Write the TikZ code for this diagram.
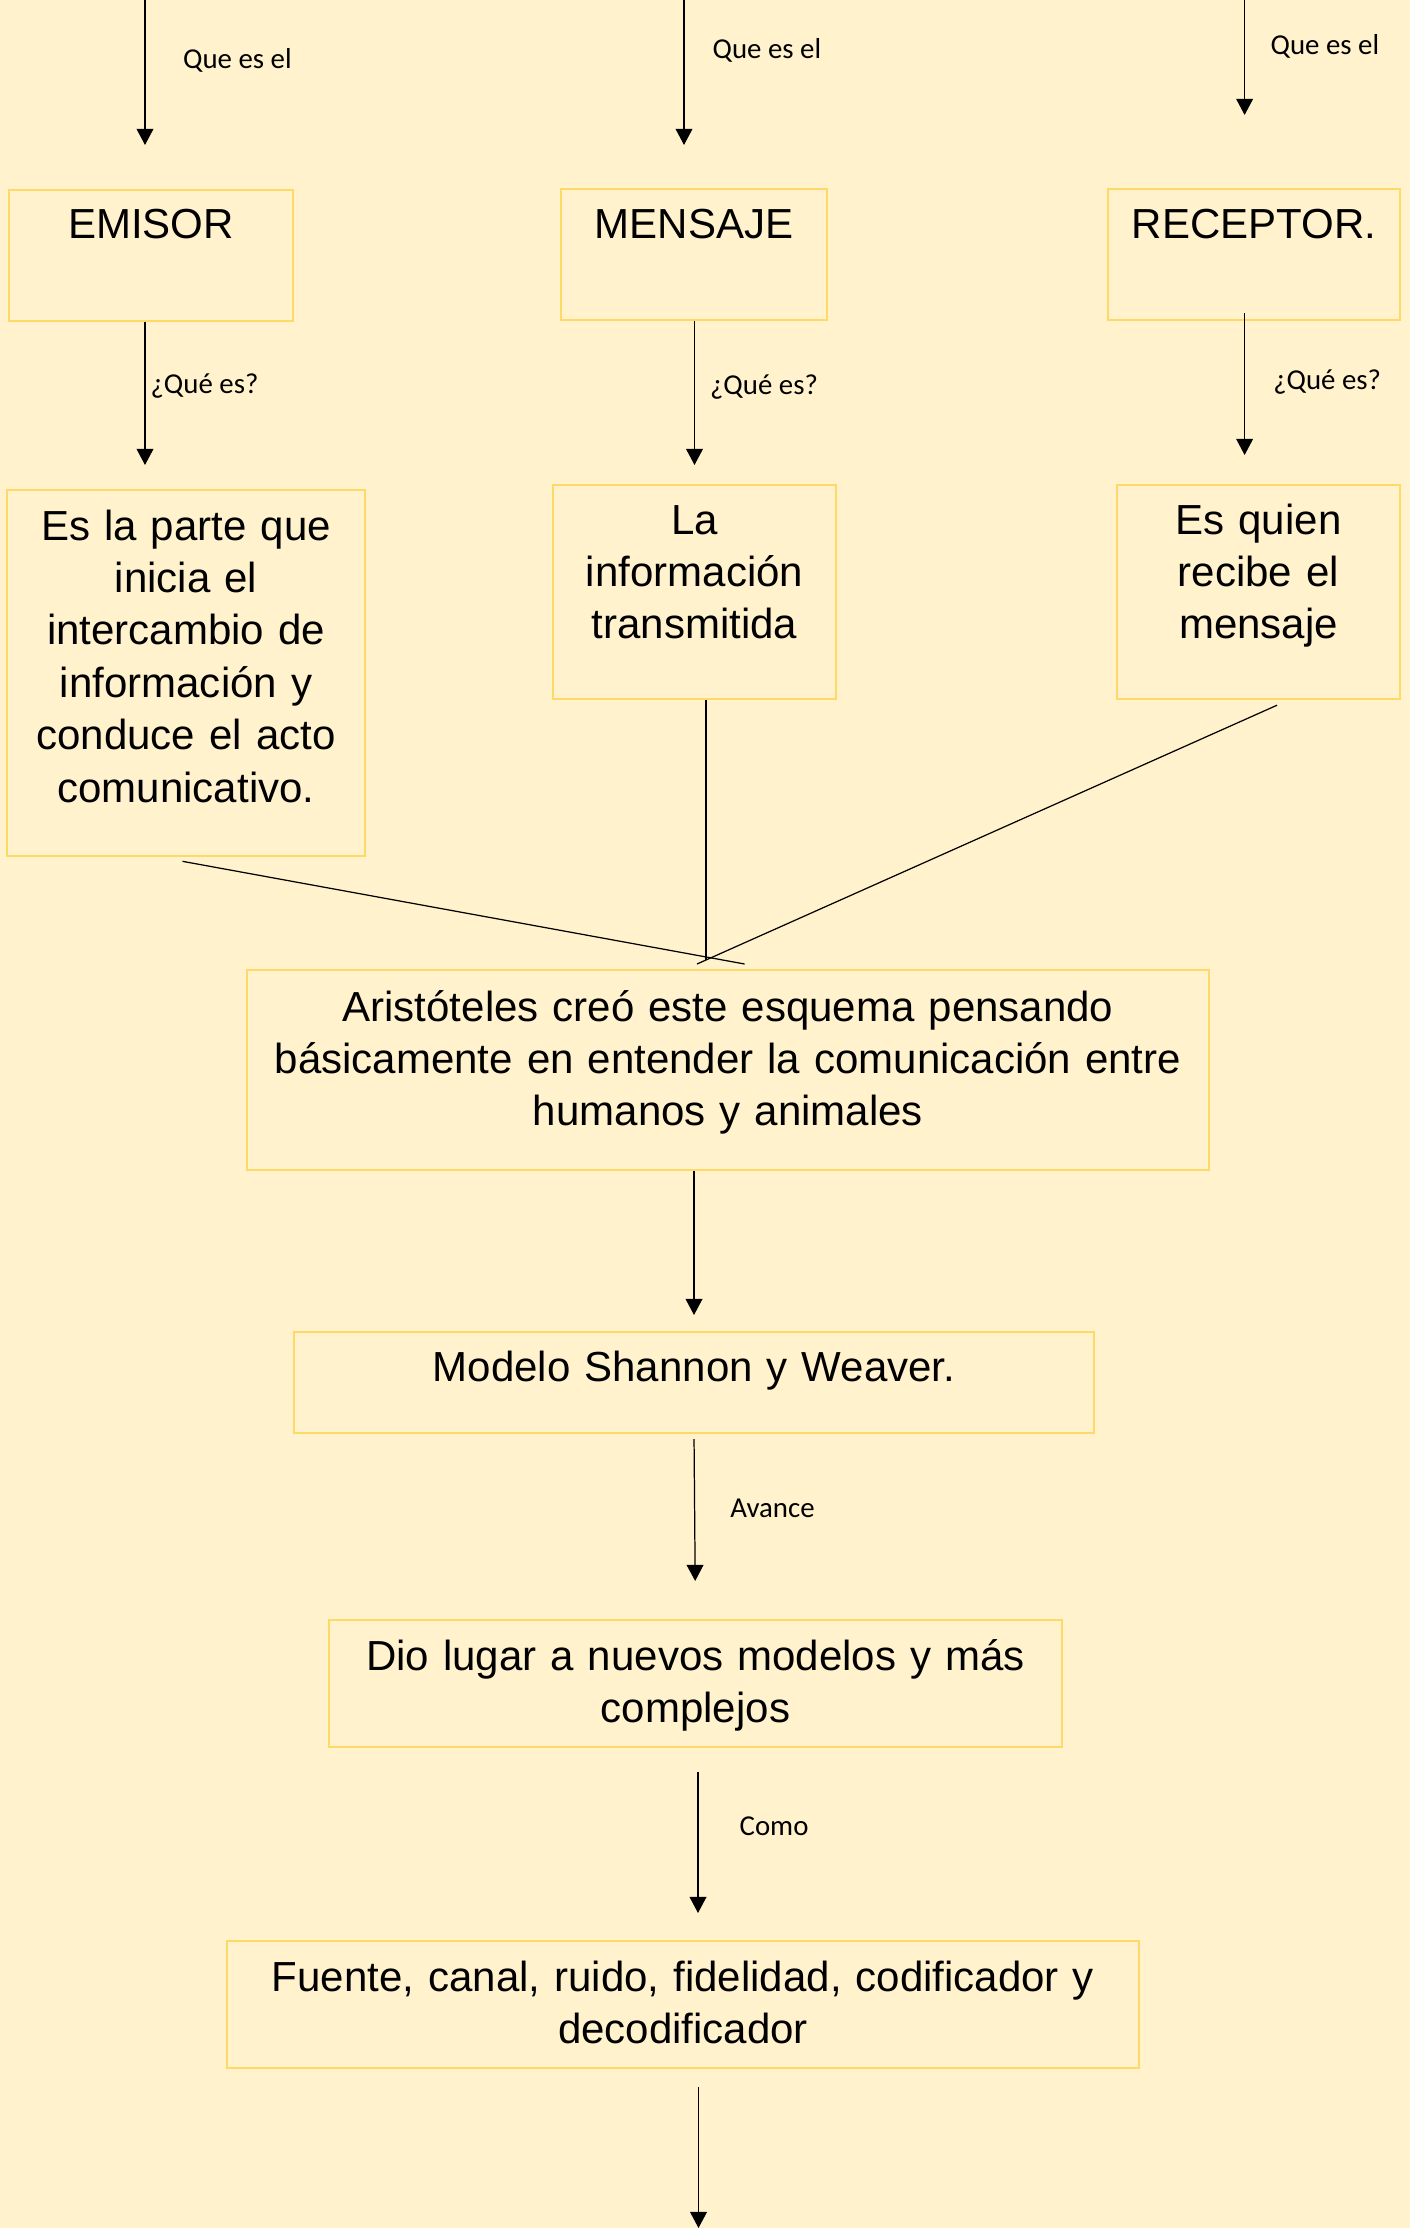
\documentclass[tikz,border=0pt]{standalone}
\usepackage{fontspec}
\setmainfont{Liberation Sans}
\newfontfamily\carlito{Carlito}
\usetikzlibrary{calc,arrows.meta}
\definecolor{fondo}{HTML}{FFF2CC}
\definecolor{borde}{HTML}{FFD966}

\begin{document}
\begin{tikzpicture}[x=0.01cm, y=-0.01cm,
    caja/.style={draw=borde, line width=0.6pt, anchor=north, align=center,
      inner xsep=0pt, inner ysep=0pt, font=\fontsize{11.95pt}{14.9pt}\selectfont},
    flecha/.style={-{Triangle[width=4.8pt,length=4.6pt]}, line width=0.35pt},
    linea/.style={line width=0.35pt},
    etiqueta/.style={anchor=base west, inner sep=0pt, font=\carlito\fontsize{8.2pt}{10pt}\selectfont}]
  \fill[fondo] (0,0) rectangle (1410,2228);
  \useasboundingbox (0,0) rectangle (1410,2228);

  % fila de arriba
  \coordinate (q1) at (145,0);
  \coordinate (q2) at (684,0);
  \coordinate (q3) at (1244.6,0);

  \node[caja, text width=2.84cm, text height=0.48cm, text depth=0.83cm] (emisor) at (151,189) {EMISOR};
  \node[caja, text width=2.66cm, text height=0.49cm, text depth=0.82cm] (mensaje) at (694,188) {MENSAJE};
  \node[caja, text width=2.92cm, text height=0.49cm, text depth=0.82cm] (receptor) at (1254,188) {RECEPTOR.};

  \draw[flecha, shorten >=0.44cm] (q1) -- (q1 |- emisor.north) node[etiqueta, pos=0.365, xshift=0.375cm] {Que es el};
  \draw[flecha, shorten >=0.43cm] (q2) -- (q2 |- mensaje.north) node[etiqueta, pos=0.31, xshift=0.28cm] {Que es el};
  \draw[flecha, shorten >=0.73cm] (q3) -- (q3 |- receptor.north) node[etiqueta, pos=0.29, xshift=0.254cm] {Que es el};

  % segunda fila
  \node[caja, text width=3.58cm, text height=0.50cm, text depth=3.16cm] (emdesc) at (186,489) {Es la parte que\\inicia el\\intercambio de\\información y\\conduce el acto\\comunicativo.};
  \node[caja, text width=2.83cm, text height=0.49cm, text depth=1.65cm] (mendesc) at (694.5,484) {La\\información\\transmitida};
  \node[caja, text width=2.83cm, text height=0.49cm, text depth=1.65cm] (recdesc) at (1258.5,484) {Es quien\\recibe el\\mensaje};

  \draw[flecha, shorten >=0.24cm] (emisor.south -| q1) -- (emdesc.north -| q1) node[etiqueta, pos=0.426, xshift=0.05cm] {¿Qué es?};
  \draw[flecha, shorten >=0.19cm] (mendesc.north |- mensaje.south) -- (mendesc.north) node[etiqueta, pos=0.448, xshift=0.15cm] {¿Qué es?};
  \draw[flecha, shorten <=-0.08cm, shorten >=0.29cm] (receptor.south -| q3) -- (recdesc.north -| q3) node[etiqueta, pos=0.418, xshift=0.28cm] {¿Qué es?};

  % las tres lineas hacia Aristoteles
  \node[caja, text width=9.61cm, text height=0.51cm, text depth=1.49cm] (aristo) at (728,969) {Aristóteles creó este esquema pensando\\básicamente en entender la comunicación entre\\humanos y animales};
  \draw[linea] ($(emdesc.south)+(-3.5,4)$) -- ($(aristo.north)+(16.6,-5)$);
  \draw[linea] ($(mendesc.south)+(11.5,0)$) -- ($(aristo.north)+(-22,-9)$);
  \draw[linea] ($(recdesc.south)+(18.5,5)$) -- ($(aristo.north)+(-31,-5)$);

  % columna de abajo
  \node[caja, text width=8.00cm, text height=0.49cm, text depth=0.52cm] (modelo) at (694,1331) {Modelo Shannon y Weaver.};
  \draw[flecha, shorten >=0.16cm] (modelo.north |- aristo.south) -- (modelo.north);

  \node[caja, text width=7.33cm, text height=0.50cm, text depth=0.77cm] (dio) at (695.5,1619) {Dio lugar a nuevos modelos y más\\complejos};
  \draw[flecha, shorten <=0.05cm, shorten >=0.38cm] (modelo.south) -- (dio.north) node[etiqueta, pos=0.449, xshift=0.35cm] {Avance};

  \node[caja, text width=9.12cm, text height=0.50cm, text depth=0.77cm] (fuente) at (683,1940) {Fuente, canal, ruido, fidelidad, codificador y\\decodificador};
  \draw[flecha, shorten <=0.236cm, shorten >=0.27cm] ($(dio.south)+(2.5,0)$) -- ($(dio.south |- fuente.north)+(2.5,0)$) node[etiqueta, pos=0.454, xshift=0.41cm] {Como};

  \coordinate (fin) at (698.5,2228);
  \draw[flecha, shorten <=0.18cm] (fin |- fuente.south) -- (fin);
\end{tikzpicture}
\end{document}
